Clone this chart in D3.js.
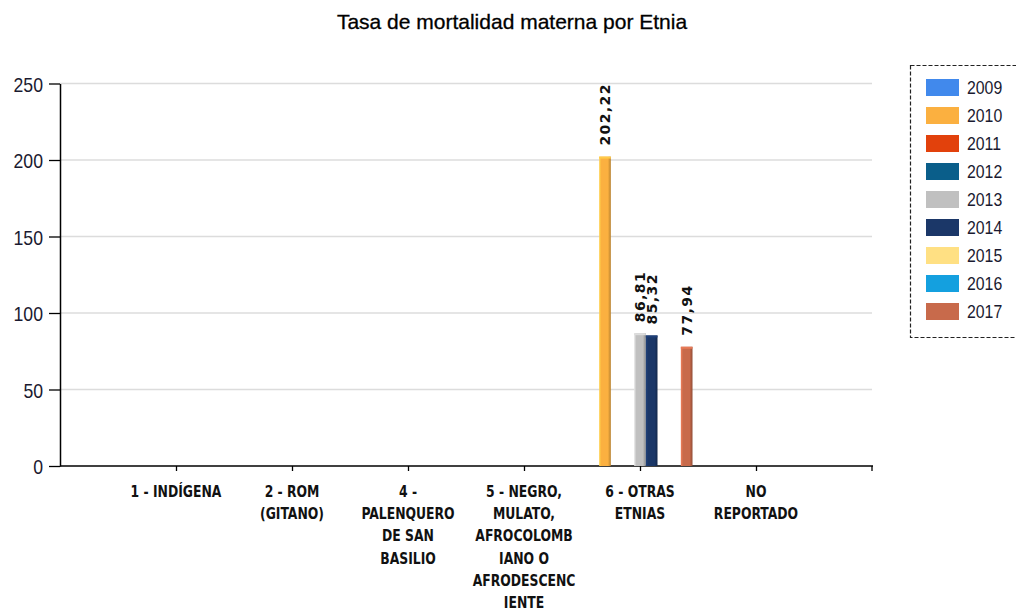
<!DOCTYPE html>
<html><head><meta charset="utf-8">
<script src="https://cdn.jsdelivr.net/npm/d3@7"></script>
<style>body{margin:0;background:#fff}svg{display:block}</style>
</head><body><svg id="c" width="1016" height="611"></svg>
<script>
const title = "Tasa de mortalidad materna por Etnia";
const categories = ["1 - INDÍGENA","2 - ROM (GITANO)","4 - PALENQUERO DE SAN BASILIO","5 - NEGRO, MULATO, AFROCOLOMBIANO O AFRODESCENCIENTE","6 - OTRAS ETNIAS","NO REPORTADO"];
const categoryLabelLines = [["1 - INDÍGENA"],["2 - ROM","(GITANO)"],["4 -","PALENQUERO","DE SAN","BASILIO"],["5 - NEGRO,","MULATO,","AFROCOLOMB","IANO O","AFRODESCENC","IENTE"],["6 - OTRAS","ETNIAS"],["NO","REPORTADO"]];
const years = ["2009","2010","2011","2012","2013","2014","2015","2016","2017"];
const colors = ["#4189ec","#fbb040","#e2410c","#0a5e8a","#c0c0c0","#1b3768","#ffe083","#14a0df","#c86a4b"];
const v2009 = [null,null,null,null,null,null];
const v2010 = [null,null,null,null,202.22,null];
const v2011 = [null,null,null,null,null,null];
const v2012 = [null,null,null,null,null,null];
const v2013 = [null,null,null,null,86.81,null];
const v2014 = [null,null,null,null,85.32,null];
const v2015 = [null,null,null,null,null,null];
const v2016 = [null,null,null,null,null,null];
const v2017 = [null,null,null,null,77.94,null];
const seriesValues = [v2009,v2010,v2011,v2012,v2013,v2014,v2015,v2016,v2017];
const yTicks = [0,50,100,150,200,250];

const svg = d3.select("#c");
const pl = 60, pr = 872, pt = 83.5, pb = 466;
const step = (pr-pl)/7;
const x0 = d3.scalePoint().domain(categories).range([pl+step, pr-step]);
const x1 = d3.scaleBand().domain(years).range([-52.5, 52.5]);
const y = d3.scaleLinear().domain([0,250]).range([pb, pt]);
const fmt = v => d3.format(".2f")(v).replace(".", ",");

function condense(sel, f){
  sel.each(function(){
    const w = this.getComputedTextLength();
    d3.select(this).attr("textLength", w*f).attr("lengthAdjust","spacingAndGlyphs");
  });
}

const defs = svg.append("defs");
years.forEach((yr,i)=>{
  const c = d3.color(colors[i]);
  const g = defs.append("linearGradient").attr("id","g"+yr).attr("x1","0").attr("x2","1").attr("y1","0").attr("y2","0");
  g.append("stop").attr("offset","0").attr("stop-color", c.brighter(0.5));
  g.append("stop").attr("offset","0.2").attr("stop-color", c);
  g.append("stop").attr("offset","0.75").attr("stop-color", c);
  g.append("stop").attr("offset","1").attr("stop-color", c.darker(0.9));
});

svg.append("text").attr("x",512).attr("y",29).attr("text-anchor","middle")
  .attr("font-family","Liberation Sans, Arial, sans-serif").attr("font-size",21)
  .attr("fill","#000").attr("stroke","#000").attr("stroke-width",0.3).text(title);

svg.append("g").selectAll("line").data(yTicks.filter(d=>d>0)).join("line")
  .attr("x1",pl).attr("x2",pr).attr("y1",d=>y(d)).attr("y2",d=>y(d))
  .attr("stroke","#dcdcdc").attr("stroke-width",1.5);

const ya = svg.append("g").attr("transform",`translate(${pl},0)`)
  .call(d3.axisLeft(y).tickValues(yTicks).tickSize(11).tickSizeOuter(0).tickPadding(6));
ya.select(".domain").attr("stroke","#000").attr("stroke-width",1.5);
ya.selectAll(".tick line").attr("stroke","#000").attr("stroke-width",1.3);
ya.selectAll(".tick text").attr("font-family","Liberation Sans, Arial, sans-serif").attr("font-size",21)
  .attr("dy","0.36em").attr("fill","#1a1a30").call(condense, 0.84);

const xa = svg.append("g").attr("transform",`translate(0,${pb})`)
  .call(d3.axisBottom(x0).tickSize(5).tickSizeOuter(0).tickFormat(""));
xa.select(".domain").remove();
xa.selectAll(".tick line").attr("stroke","#000").attr("stroke-width",1.3);
svg.append("line").attr("x1",pl).attr("x2",pr+1).attr("y1",pb).attr("y2",pb).attr("stroke","#000").attr("stroke-width",1.5);
svg.append("line").attr("x1",pr).attr("x2",pr).attr("y1",pb).attr("y2",pb+5).attr("stroke","#000").attr("stroke-width",1.3);

const cl = svg.append("g");
categories.forEach((c,i)=>{
  const t = cl.append("text").attr("x",x0(c)).attr("y",497).attr("text-anchor","middle")
    .attr("font-family","DejaVu Sans Condensed, DejaVu Sans, sans-serif").attr("font-weight","bold")
    .attr("font-size",16).attr("fill","#111");
  categoryLabelLines[i].forEach((ln,j)=>{
    t.append("tspan").attr("x",x0(c)).attr("dy", j===0?0:22.2).text(ln);
  });
});
cl.selectAll("tspan").call(condense, 0.86);

const bars = [];
seriesValues.forEach((vals,si)=>{
  vals.forEach((v,ci)=>{ if(v!=null) bars.push({yr:years[si],si,cat:categories[ci],v}); });
});
const bg = svg.append("g");
bg.selectAll("rect.bar").data(bars).join("rect").attr("class","bar")
  .attr("x",d=>x0(d.cat)+x1(d.yr)).attr("width",x1.bandwidth())
  .attr("y",d=>y(d.v)).attr("height",d=>pb-y(d.v))
  .attr("fill",d=>`url(#g${d.yr})`);
bg.selectAll("rect.cap").data(bars).join("rect").attr("class","cap")
  .attr("x",d=>x0(d.cat)+x1(d.yr)).attr("width",x1.bandwidth())
  .attr("y",d=>y(d.v)).attr("height",2)
  .attr("fill",d=>d3.color(colors[d.si]).brighter(0.4));

svg.append("g").selectAll("text").data(bars).join("text")
  .attr("transform",d=>`translate(${x0(d.cat)+x1(d.yr)+x1.bandwidth()/2+5},${y(d.v)-11}) rotate(-90)`)
  .attr("font-family","DejaVu Sans, sans-serif").attr("font-weight","bold").attr("font-size",14)
  .attr("letter-spacing","1.4px").attr("fill","#111").text(d=>fmt(d.v));

const lg = svg.append("g");
lg.append("rect").attr("x",910.5).attr("y",65.5).attr("width",120).attr("height",272)
  .attr("fill","#fff").attr("stroke","#222").attr("stroke-width",1.2).attr("stroke-dasharray","4,2");
years.forEach((yr,i)=>{
  const yy = 79 + i*28;
  lg.append("rect").attr("x",926).attr("y",yy).attr("width",33).attr("height",17).attr("fill",colors[i]);
  lg.append("text").attr("x",967).attr("y",yy+15).attr("font-family","Liberation Sans, Arial, sans-serif")
    .attr("font-size",18).attr("fill","#1a1a30").text(yr).call(condense, 0.88);
});
</script></body></html>
